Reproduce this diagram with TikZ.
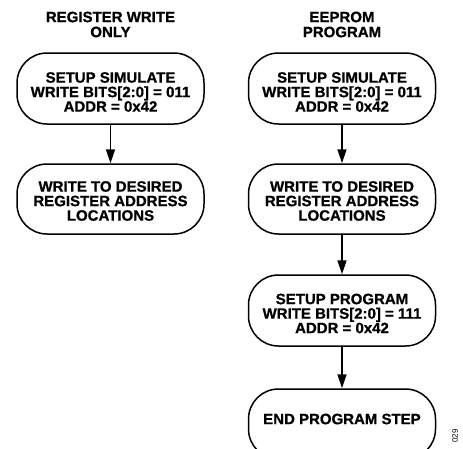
\documentclass[tikz,border=0pt]{standalone}
\usepackage{fontspec}
\setmainfont{Liberation Sans}[BoldFeatures={FakeBold=0.8}]
\usetikzlibrary{arrows.meta}
\begin{document}
\begin{tikzpicture}[x=1pt,y=-1pt,
  flowbox/.style={draw, line width=1.5pt, rounded corners=30pt, minimum width=187pt, inner sep=0pt},
  boxtext/.style={align=center, inner sep=0pt, font=\fontsize{15}{14.5}\selectfont\bfseries},
  coltitle/.style={align=center, inner sep=0pt, font=\fontsize{15}{15}\selectfont\bfseries},
  flow/.style={line width=1.5pt, -{Triangle[length=14pt,width=9pt]}}]
\useasboundingbox (0,0) rectangle (463,448);
% titles
\node[coltitle] (t1) at (110.5,24.5) {REGISTER WRITE\\ONLY};
\node[coltitle] (t2) at (342,24.5) {EEPROM\\PROGRAM};
% left column
\node[flowbox, minimum height=71pt] (a1) at (110.5,88.5) {};
\node[boxtext] (a1t) at ([yshift=-3.5pt]a1.center) {SETUP SIMULATE\\WRITE BITS[2:0] = 011\\ADDR = 0x42};
\node[flowbox, minimum height=70pt] (a2) at (110.5,199) {};
\node[boxtext] (a2t) at ([yshift=-2pt]a2.center) {WRITE TO DESIRED\\REGISTER ADDRESS\\LOCATIONS};
% right column
\node[flowbox, minimum height=71pt] (b1) at (342,88.5) {};
\node[boxtext] (b1t) at ([yshift=-3.5pt]b1.center) {SETUP SIMULATE\\WRITE BITS[2:0] = 011\\ADDR = 0x42};
\node[flowbox, minimum height=70pt] (b2) at (342,199) {};
\node[boxtext] (b2t) at ([yshift=-2pt]b2.center) {WRITE TO DESIRED\\REGISTER ADDRESS\\LOCATIONS};
\node[flowbox, minimum height=71pt] (b3) at (342,310.5) {};
\node[boxtext] (b3t) at ([yshift=-3pt]b3.center) {SETUP PROGRAM\\WRITE BITS[2:0] = 111\\ADDR = 0x42};
\node[flowbox, minimum height=70pt] (b4) at (342,424) {};
\node[boxtext] (b4t) at ([yshift=5pt]b4.center) {END PROGRAM STEP};
% connectors
\draw[flow] (a1) -- (a2);
\draw[flow] (b1) -- (b2);
\draw[flow] (b2) -- (b3);
\draw[flow] (b3) -- (b4);
% figure number
\node[rotate=90, inner sep=0pt, font=\fontsize{8}{9}\selectfont] (fig) at (455,436) {029};
\end{tikzpicture}
\end{document}
